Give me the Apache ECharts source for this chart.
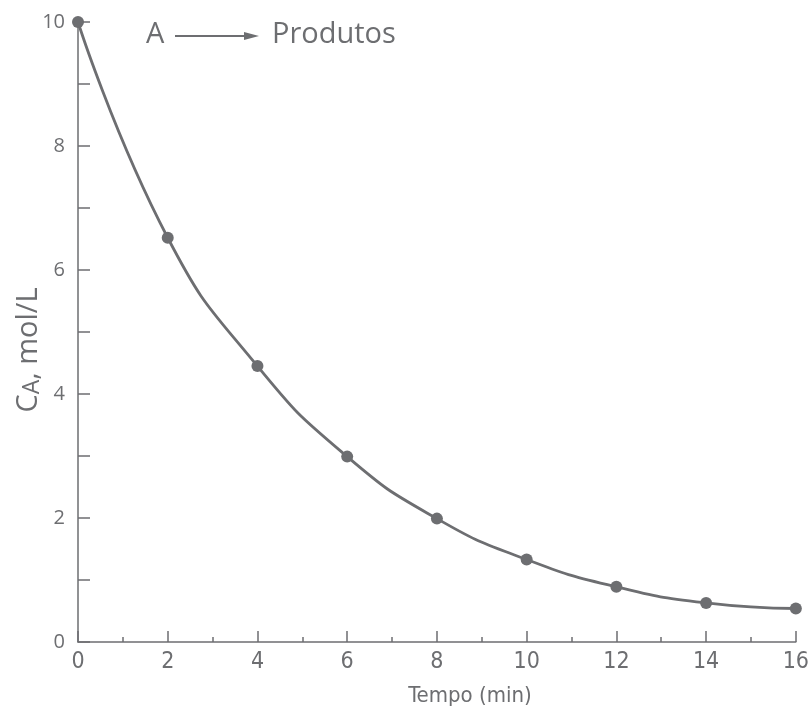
<!DOCTYPE html>
<html><head><meta charset="utf-8">
<script src="https://cdn.jsdelivr.net/npm/echarts@6/dist/echarts.min.js"></script>
<style>html,body{margin:0;padding:0;background:#fff}#c{width:812px;height:712px}</style>
</head><body><div id="c"></div>
<script>
const tempo = [0, 2, 4, 6, 8, 10, 12, 14, 16];
const concA = [10, 6.52, 4.45, 2.99, 1.99, 1.33, 0.89, 0.63, 0.54];
const xTicks = [0, 2, 4, 6, 8, 10, 12, 14, 16];
const yTicks = [0, 2, 4, 6, 8, 10];
const grey = '#6d6e71';
const cond = 'DejaVu Sans Condensed, Liberation Sans Narrow, sans-serif';
const chart = echarts.init(document.getElementById('c'));
chart.setOption({
  animation: false,
  grid: {left: 78, right: 11, top: 22, bottom: 70},
  xAxis: {
    type: 'value', min: 0, max: 16, interval: 2,
    axisLine: {lineStyle: {color: grey, width: 1.5}},
    axisTick: {inside: true, length: 11, lineStyle: {color: grey, width: 1.5}},
    minorTick: {show: true, splitNumber: 2, length: 5, lineStyle: {color: grey, width: 1.5}},
    splitLine: {show: false},
    axisLabel: {color: grey, fontSize: 23, margin: 9, fontFamily: cond,
      formatter: v => xTicks.includes(v) ? String(v) : ''}
  },
  yAxis: {
    type: 'value', min: 0, max: 10, interval: 2,
    axisLine: {show: true, lineStyle: {color: grey, width: 1.5}},
    axisTick: {show: true, inside: true, length: 12, lineStyle: {color: grey, width: 1.5}},
    minorTick: {show: true, splitNumber: 2, length: 12, lineStyle: {color: grey, width: 1.5}},
    splitLine: {show: false},
    axisLabel: {color: grey, fontSize: 20, margin: 13, fontFamily: 'Open Sans, sans-serif',
      formatter: v => yTicks.includes(v) ? String(v) : ''}
  },
  graphic: [
    {type: 'text', left: 146, top: 20, style: {text: 'A', fill: grey, fontSize: 29, fontFamily: 'Open Sans, sans-serif'}},
    {type: 'line', shape: {x1: 175, y1: 36, x2: 246, y2: 36}, style: {stroke: grey, lineWidth: 1.8}},
    {type: 'polygon', shape: {points: [[244, 32], [259, 36], [244, 40]]}, style: {fill: grey}},
    {type: 'text', left: 272, top: 20, style: {text: 'Produtos', fill: grey, fontSize: 29, fontFamily: 'Open Sans, sans-serif'}},
    {type: 'text', x: 470, y: 696, style: {text: 'Tempo (min)', fill: grey, fontSize: 22, fontFamily: cond, align: 'center', verticalAlign: 'middle'}},
    {type: 'text', x: 29, y: 350, rotation: Math.PI / 2, style: {
      text: '{c|C}{a|A}{c|, mol/L}', align: 'center', verticalAlign: 'middle',
      rich: {
        c: {fill: grey, fontSize: 29, fontFamily: 'Open Sans, sans-serif'},
        a: {fill: grey, fontSize: 23, fontFamily: 'Open Sans, sans-serif', verticalAlign: 'bottom'}
      }}}
  ],
  series: [{
    type: 'line', data: tempo.map((t, i) => [t, concA[i]]),
    smooth: 0.5,
    symbol: 'circle', symbolSize: 12, clip: false,
    lineStyle: {color: grey, width: 2.8},
    itemStyle: {color: grey}
  }]
});
</script></body></html>
